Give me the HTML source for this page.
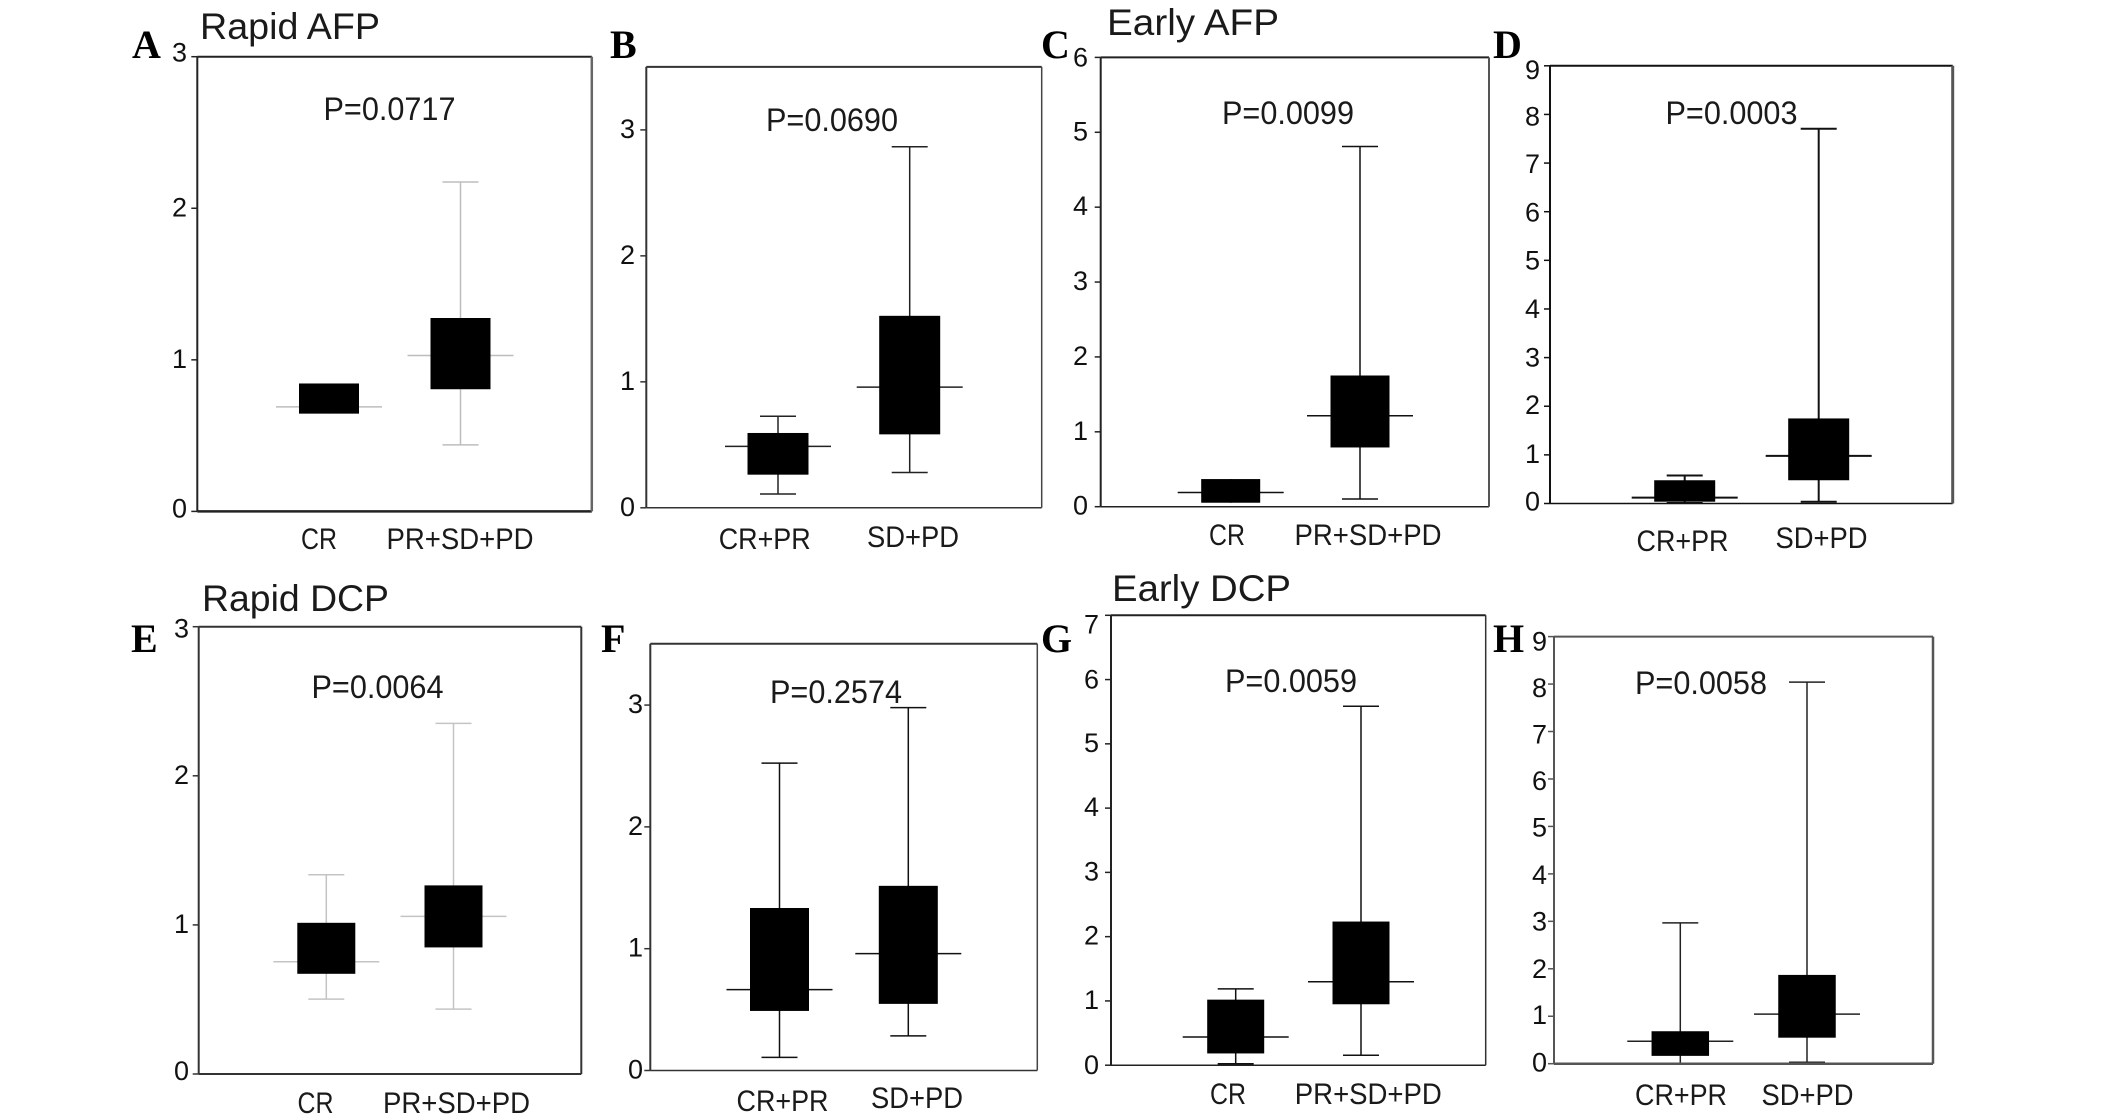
<!DOCTYPE html>
<html lang="en">
<head>
<meta charset="utf-8">
<title>Box plots of AFP and DCP ratios by treatment response</title>
<style>
  html, body { margin: 0; padding: 0; background: #fff; }
  body { width: 2126px; height: 1119px; overflow: hidden; }
  svg { display: block; }
  text { font-family: "Liberation Sans", Arial, sans-serif; fill: #111; }
  .letter { font-family: "Liberation Serif", "Times New Roman", serif; font-weight: bold; font-size: 40px; fill: #000; }
  .title { font-size: 37px; fill: #1a1a1a; }
  .pval { font-size: 32px; fill: #1a1a1a; }
  .tick-label { font-size: 27px; text-anchor: end; }
  .cat-label { font-size: 30px; text-anchor: middle; fill: #1a1a1a; }
</style>
</head>
<body>
<svg id="figure" xmlns="http://www.w3.org/2000/svg" width="2126" height="1119" viewBox="0 0 2126 1119">
  <rect x="0" y="0" width="2126" height="1119" fill="#fff"/>

  <g id="panel-a">
    <text class="letter" x="132" y="58">A</text>
    <text class="title" x="200" y="39" textLength="180" lengthAdjust="spacingAndGlyphs">Rapid AFP</text>
    <text class="pval" x="323.5" y="120" textLength="132" lengthAdjust="spacingAndGlyphs">P=0.0717</text>
  </g>
  <g id="panel-b">
    <text class="letter" x="610" y="58">B</text>
    <text class="pval" x="766" y="131" textLength="132" lengthAdjust="spacingAndGlyphs">P=0.0690</text>
  </g>
  <g id="panel-c">
    <text class="letter" x="1041" y="58">C</text>
    <text class="title" x="1107" y="35" textLength="172" lengthAdjust="spacingAndGlyphs">Early AFP</text>
    <text class="pval" x="1222" y="124" textLength="132" lengthAdjust="spacingAndGlyphs">P=0.0099</text>
  </g>
  <g id="panel-d">
    <text class="letter" x="1493" y="58">D</text>
    <text class="pval" x="1665.5" y="124" textLength="132" lengthAdjust="spacingAndGlyphs">P=0.0003</text>
  </g>
  <g id="panel-e">
    <text class="letter" x="131" y="652">E</text>
    <text class="title" x="202" y="611" textLength="187" lengthAdjust="spacingAndGlyphs">Rapid DCP</text>
    <text class="pval" x="311.5" y="698" textLength="132" lengthAdjust="spacingAndGlyphs">P=0.0064</text>
  </g>
  <g id="panel-f">
    <text class="letter" x="601" y="652">F</text>
    <text class="pval" x="770" y="703" textLength="132" lengthAdjust="spacingAndGlyphs">P=0.2574</text>
  </g>
  <g id="panel-g">
    <text class="letter" x="1041" y="652">G</text>
    <text class="title" x="1112" y="601" textLength="179" lengthAdjust="spacingAndGlyphs">Early DCP</text>
    <text class="pval" x="1225" y="692" textLength="132" lengthAdjust="spacingAndGlyphs">P=0.0059</text>
  </g>
  <g id="panel-h">
    <text class="letter" x="1493" y="652">H</text>
    <text class="pval" x="1635" y="694" textLength="132" lengthAdjust="spacingAndGlyphs">P=0.0058</text>
  </g>
</svg>

<script>
// ---- Data ----
const categoriesA = ['CR', 'PR+SD+PD'];
const ticksA = [0, 1, 2, 3];
const lowA = [0.645, 0.439];
const q1A = [0.645, 0.806];
const medianA = [0.69, 1.029];
const q3A = [0.844, 1.276];
const highA = [0.844, 2.173];

const categoriesB = ['CR+PR', 'SD+PD'];
const ticksB = [0, 1, 2, 3];
const lowB = [0.11, 0.28];
const q1B = [0.263, 0.583];
const medianB = [0.488, 0.958];
const q3B = [0.594, 1.524];
const highB = [0.727, 2.866];

const categoriesC = ['CR', 'PR+SD+PD'];
const ticksC = [0, 1, 2, 3, 4, 5, 6];
const lowC = [0.053, 0.102];
const q1C = [0.053, 0.791];
const medianC = [0.189, 1.214];
const q3C = [0.369, 1.752];
const highC = [0.369, 4.81];

const categoriesD = ['CR+PR', 'SD+PD'];
const ticksD = [0, 1, 2, 3, 4, 5, 6, 7, 8, 9];
const lowD = [0.01, 0.037];
const q1D = [0.037, 0.478];
const medianD = [0.12, 0.979];
const q3D = [0.478, 1.749];
const highD = [0.575, 7.705];

const categoriesE = ['CR', 'PR+SD+PD'];
const ticksE = [0, 1, 2, 3];
const lowE = [0.502, 0.435];
const q1E = [0.672, 0.849];
const medianE = [0.753, 1.057];
const q3E = [1.014, 1.265];
const highE = [1.336, 2.352];

const categoriesF = ['CR+PR', 'SD+PD'];
const ticksF = [0, 1, 2, 3];
const lowF = [0.108, 0.284];
const q1F = [0.489, 0.547];
const medianF = [0.664, 0.96];
const q3F = [1.334, 1.516];
const highF = [2.523, 2.979];

const categoriesG = ['CR', 'PR+SD+PD'];
const ticksG = [0, 1, 2, 3, 4, 5, 6, 7];
const lowG = [0.022, 0.155];
const q1G = [0.183, 0.948];
const medianG = [0.438, 1.298];
const q3G = [1.02, 2.235];
const highG = [1.187, 5.585];

const categoriesH = ['CR+PR', 'SD+PD'];
const ticksH = [0, 1, 2, 3, 4, 5, 6, 7, 8, 9];
const lowH = [0.008, 0.03];
const q1H = [0.165, 0.548];
const medianH = [0.473, 1.044];
const q3H = [0.684, 1.871];
const highH = [2.968, 8.04];

// ---- Rendering ----
const SVG_NS = 'http://www.w3.org/2000/svg';

function makeLine(parent, x1, y1, x2, y2, color, width) {
  const line = document.createElementNS(SVG_NS, 'line');
  line.setAttribute('x1', x1);
  line.setAttribute('y1', y1);
  line.setAttribute('x2', x2);
  line.setAttribute('y2', y2);
  line.setAttribute('stroke', color);
  line.setAttribute('stroke-width', width);
  parent.appendChild(line);
  return line;
}

function drawPanel(layout, categories, ticks, low, q1, median, q3, high) {
  const group = document.getElementById(layout.id);
  const yScale = function (v) {
    return layout.bottom - (v / layout.yMax) * (layout.bottom - layout.top);
  };
  const xScale = function (i) {
    return layout.firstCenter + i * layout.step;
  };

  // Series marks
  categories.forEach(function (category, i) {
    const cx = xScale(i);
    const key = category.toLowerCase().replace(/\+/g, '-');

    const whisker = makeLine(group, cx, yScale(high[i]), cx, yScale(low[i]), layout.mark, layout.markWidth);
    
    

    if (high[i] > q3[i]) {
      const capHigh = makeLine(group, cx - 18, yScale(high[i]), cx + 18, yScale(high[i]), layout.mark, layout.markWidth);
      
      
    }
    if (low[i] < q1[i]) {
      const capLow = makeLine(group, cx - 18, yScale(low[i]), cx + 18, yScale(low[i]), layout.mark, layout.markWidth);
      
      
    }

    const medianLine = makeLine(group, cx - 53, yScale(median[i]), cx + 53, yScale(median[i]), layout.mark, layout.markWidth);
    
    

    const box = document.createElementNS(SVG_NS, 'rect');
    box.setAttribute('x', cx - layout.boxWidth / 2);
    box.setAttribute('y', yScale(q3[i]));
    box.setAttribute('width', layout.boxWidth);
    box.setAttribute('height', yScale(q1[i]) - yScale(q3[i]));
    box.setAttribute('fill', '#000');
    
    
    group.appendChild(box);

    const label = document.createElementNS(SVG_NS, 'text');
    label.setAttribute('class', 'cat-label');
    label.setAttribute('x', layout.labelX[i]);
    label.setAttribute('y', layout.labelY[i]);
    label.setAttribute('textLength', category.length > 5 ? 147 : (category.length > 2 ? 92 : 36));
    label.setAttribute('lengthAdjust', 'spacingAndGlyphs');
    
    
    label.textContent = category;
    group.appendChild(label);
  });

  // Plot frame
  const leftSpine = makeLine(group, layout.left, layout.top, layout.left, layout.bottom, layout.frame, 2);
  
  
  const bottomSpine = makeLine(group, layout.left, layout.bottom, layout.right, layout.bottom, layout.frame, layout.bottomWidth);
  
  
  const topSpine = makeLine(group, layout.left, layout.top, layout.right, layout.top, layout.frame, 2);
  
  
  const rightSpine = makeLine(group, layout.right, layout.top, layout.right, layout.bottom, layout.rightColor, layout.rightWidth);
  
  

  // Y axis ticks and labels
  ticks.forEach(function (tick) {
    const y = yScale(tick);
    const mark = makeLine(group, layout.left - 6, y, layout.left, y, layout.frame, 1.5);
    
    

    const label = document.createElementNS(SVG_NS, 'text');
    label.setAttribute('class', 'tick-label');
    label.setAttribute('x', layout.tickEnd);
    label.setAttribute('y', y + 8 + (layout.labelNudge[tick] || 0));
    
    
    label.textContent = tick;
    group.appendChild(label);
  });
}

drawPanel({ id: 'panel-a', left: 197.3, right: 591.8, top: 56.7, bottom: 511.4, yMax: 3, firstCenter: 329, step: 131.5, boxWidth: 60, labelX: [319, 460], labelY: [549, 549], tickEnd: 187, labelNudge: { 3: -3, 0: -2 }, mark: '#bdbdbd', markWidth: 1.5, frame: '#222', bottomWidth: 2.5, rightColor: '#666', rightWidth: 2.5 }, categoriesA, ticksA, lowA, q1A, medianA, q3A, highA);

drawPanel({ id: 'panel-b', left: 646.3, right: 1041.7, top: 66.9, bottom: 507.8, yMax: 3.5, firstCenter: 778, step: 131.7, boxWidth: 61, labelX: [764.7, 913], labelY: [549, 547], tickEnd: 635, labelNudge: {}, mark: '#222', markWidth: 1.5, frame: '#333', bottomWidth: 1.5, rightColor: '#444', rightWidth: 1.5 }, categoriesB, ticksB, lowB, q1B, medianB, q3B, highB);

drawPanel({ id: 'panel-c', left: 1100.7, right: 1489, top: 57.4, bottom: 506.7, yMax: 6, firstCenter: 1230.7, step: 129.3, boxWidth: 59, labelX: [1227, 1368], labelY: [545, 545], tickEnd: 1088, labelNudge: { 6: 1 }, mark: '#111', markWidth: 1.5, frame: '#222', bottomWidth: 1.5, rightColor: '#555', rightWidth: 2 }, categoriesC, ticksC, lowC, q1C, medianC, q3C, highC);

drawPanel({ id: 'panel-d', left: 1550, right: 1952.7, top: 65.8, bottom: 503.5, yMax: 9, firstCenter: 1684.7, step: 134, boxWidth: 61, labelX: [1682.5, 1821.5], labelY: [551, 548], tickEnd: 1540, labelNudge: { 9: 5, 8: 3, 7: 2, 6: 2, 5: 1, 4: 1, 3: 1, 0: -1 }, mark: '#111', markWidth: 2, frame: '#111', bottomWidth: 1.5, rightColor: '#555', rightWidth: 3 }, categoriesD, ticksD, lowD, q1D, medianD, q3D, highD);

drawPanel({ id: 'panel-e', left: 198.7, right: 581.3, top: 626.7, bottom: 1074, yMax: 3, firstCenter: 326.3, step: 127.2, boxWidth: 58, labelX: [315.5, 456.5], labelY: [1113, 1113], tickEnd: 189, labelNudge: { 3: 3, 0: -2 }, mark: '#c4c4c4', markWidth: 1.5, frame: '#333', bottomWidth: 2, rightColor: '#333', rightWidth: 2 }, categoriesE, ticksE, lowE, q1E, medianE, q3E, highE);

drawPanel({ id: 'panel-f', left: 650.3, right: 1037.3, top: 643.8, bottom: 1070.5, yMax: 3.503, firstCenter: 779.5, step: 128.8, boxWidth: 59, labelX: [782.5, 917], labelY: [1111, 1108], tickEnd: 643, labelNudge: {}, mark: '#111', markWidth: 1.5, frame: '#333', bottomWidth: 1.5, rightColor: '#444', rightWidth: 1.5 }, categoriesF, ticksF, lowF, q1F, medianF, q3F, highF);

drawPanel({ id: 'panel-g', left: 1111, right: 1485.7, top: 615.3, bottom: 1065.2, yMax: 7, firstCenter: 1235.7, step: 125.3, boxWidth: 57, labelX: [1228, 1368.3], labelY: [1104, 1104], tickEnd: 1099, labelNudge: { 7: 10, 6: 1, 0: 1 }, mark: '#111', markWidth: 1.5, frame: '#222', bottomWidth: 1.5, rightColor: '#333', rightWidth: 1.5 }, categoriesG, ticksG, lowG, q1G, medianG, q3G, highG);

drawPanel({ id: 'panel-h', left: 1554, right: 1933, top: 636.6, bottom: 1063.7, yMax: 9, firstCenter: 1680.3, step: 126.7, boxWidth: 57.5, labelX: [1681, 1807.5], labelY: [1105, 1105], tickEnd: 1547, labelNudge: { 9: 6, 8: 5, 7: 4, 6: 3, 5: 2, 4: 2, 3: 1, 2: 1 }, mark: '#222', markWidth: 1.5, frame: '#555', bottomWidth: 2.5, rightColor: '#555', rightWidth: 2.5 }, categoriesH, ticksH, lowH, q1H, medianH, q3H, highH);
</script>
</body>
</html>
